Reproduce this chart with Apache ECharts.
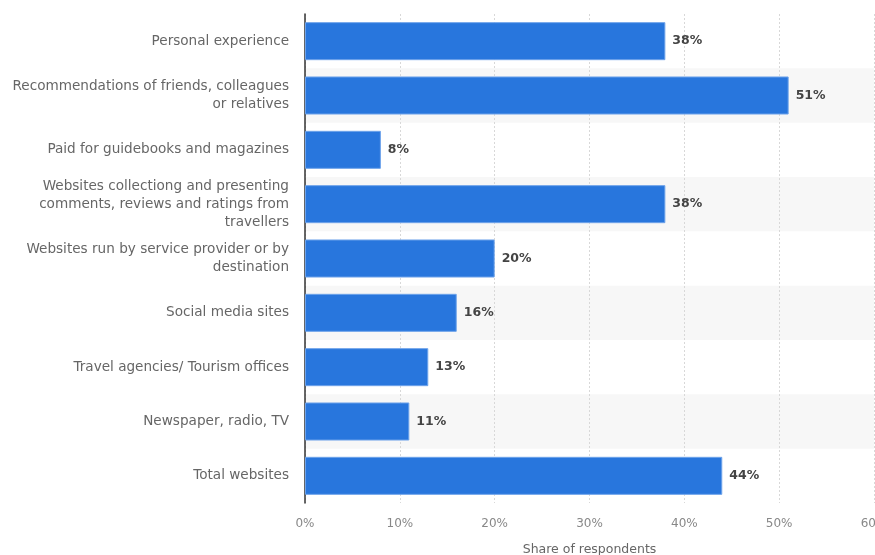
<!DOCTYPE html>
<html>
<head>
<meta charset="utf-8">
<script src="https://cdn.jsdelivr.net/npm/echarts@6/dist/echarts.min.js"></script>
<style>
  html, body { margin: 0; padding: 0; background: #fff; }
  #chart { width: 875px; height: 555px; }
</style>
</head>
<body>
<div id="chart"></div>
<script>
// Information sources used when choosing a trip, share of respondents (%)
const categories = [
  'Personal experience',
  'Recommendations of friends, colleagues\nor relatives',
  'Paid for guidebooks and magazines',
  'Websites collectiong and presenting\ncomments, reviews and ratings from\ntravellers',
  'Websites run by service provider or by\ndestination',
  'Social media sites',
  'Travel agencies/ Tourism offices',
  'Newspaper, radio, TV',
  'Total websites'
];
const shares = [38, 51, 8, 38, 20, 16, 13, 11, 44];
const xTicks = { min: 0, max: 60, step: 10 };
const xAxisTitle = 'Share of respondents';

const FONT = 'DejaVu Sans';

const chart = echarts.init(document.getElementById('chart'), null, { renderer: 'canvas' });
chart.setOption({
  animation: false,
  backgroundColor: '#ffffff',
  grid: { left: 305, right: 1, top: 14, bottom: 52, containLabel: false, outerBoundsMode: 'none' },
  xAxis: {
    type: 'value',
    min: xTicks.min,
    max: xTicks.max,
    interval: xTicks.step,
    name: xAxisTitle,
    nameLocation: 'middle',
    nameGap: 40,
    nameTextStyle: { color: '#666', fontFamily: FONT, fontSize: 12.5 },
    axisLine: { show: false },
    axisTick: { show: false },
    axisLabel: {
      color: '#888', fontFamily: FONT, fontSize: 12, margin: 15,
      formatter: v => v + '%'
    },
    splitLine: { show: true, lineStyle: { color: '#d8d8d8', type: [2, 2], width: 1 } }
  },
  yAxis: {
    type: 'category',
    inverse: true,
    data: categories,
    axisLine: { show: true, lineStyle: { color: '#333', width: 1.5 } },
    axisTick: { show: false },
    axisLabel: {
      color: '#666', fontFamily: FONT, fontSize: 13.6, margin: 16,
      lineHeight: 18, align: 'right'
    },
    splitLine: { show: false },
    splitArea: { show: true, areaStyle: { color: ['rgba(255,255,255,0)', '#f7f7f7'] } }
  },
  series: [{
    type: 'bar',
    data: shares,
    barWidth: '70%',
    itemStyle: { color: '#2876dd', borderColor: '#6ea3ea', borderWidth: 1 },
    label: {
      show: true,
      position: 'right',
      distance: 7,
      color: '#444',
      fontFamily: FONT,
      fontSize: 12.5,
      fontWeight: 'bold',
      formatter: p => p.value + '%'
    }
  }]
});
</script>
</body>
</html>
